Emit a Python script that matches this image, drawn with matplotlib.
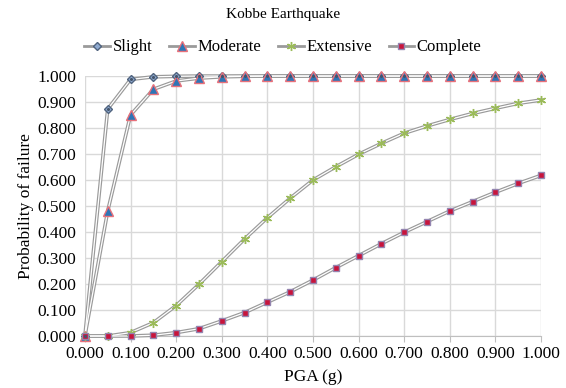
import matplotlib.pyplot as plt
import numpy as np
from matplotlib.lines import Line2D

plt.rcParams['font.family'] = ['Liberation Serif', 'DejaVu Serif']

# PGA (g) levels
pga = [0.00, 0.05, 0.10, 0.15, 0.20, 0.25, 0.30, 0.35, 0.40, 0.45, 0.50,
       0.55, 0.60, 0.65, 0.70, 0.75, 0.80, 0.85, 0.90, 0.95, 1.00]

slight = [0.000, 0.873, 0.987, 0.997, 0.999, 1.000, 1.000, 1.000, 1.000, 1.000, 1.000,
          1.000, 1.000, 1.000, 1.000, 1.000, 1.000, 1.000, 1.000, 1.000, 1.000]
moderate = [0.000, 0.481, 0.850, 0.949, 0.981, 0.992, 0.997, 0.999, 1.000, 1.000, 1.000,
            1.000, 1.000, 1.000, 1.000, 1.000, 1.000, 1.000, 1.000, 1.000, 1.000]
extensive = [0.000, 0.000, 0.013, 0.051, 0.117, 0.199, 0.286, 0.373, 0.455, 0.530, 0.600,
             0.651, 0.699, 0.741, 0.780, 0.808, 0.833, 0.856, 0.876, 0.895, 0.908]
complete = [0.000, 0.000, 0.000, 0.003, 0.013, 0.028, 0.058, 0.090, 0.130, 0.170, 0.215,
            0.263, 0.309, 0.355, 0.399, 0.440, 0.481, 0.517, 0.553, 0.587, 0.618]

fig = plt.figure(figsize=(5.66, 3.88), dpi=100)
ax = fig.add_axes([0.150, 0.134, 0.806, 0.670])

# (label, data, marker, size, face, edge)
series = [
    ("Slight", slight, "D", 4.0, "#8FAAD0", "#50637E"),
    ("Moderate", moderate, "^", 6.5, "#2E75B6", "#E8707A"),
    ("Extensive", extensive, (6, 2, 0), 6.5, "#9BBB59", "#9BBB59"),
    ("Complete", complete, "s", 4.5, "#C8143C", "#9485B0"),
]

for name, vals, mk, ms, fc, ec in series:
    # double line look: gray outline with a white core
    ax.plot(pga, vals, color="#9A9A9A", lw=2.6, clip_on=False, zorder=3)
    ax.plot(pga, vals, color="white", lw=0.9, clip_on=False, zorder=4)
    ax.plot(pga, vals, ls="none", marker=mk, ms=ms, mfc=fc, mec=ec,
            mew=1.0, clip_on=False, zorder=5)
    if mk == "D":
        ax.plot(pga, vals, ls="none", marker="o", ms=1.2, color="#44546A",
                clip_on=False, zorder=6)

ax.set_xlim(0, 1)
ax.set_ylim(0, 1)
ax.set_xticks(np.arange(0, 1.01, 0.1))
ax.set_yticks(np.arange(0, 1.01, 0.1))
ax.xaxis.set_major_formatter(plt.FormatStrFormatter("%.3f"))
ax.yaxis.set_major_formatter(plt.FormatStrFormatter("%.3f"))
ax.grid(True, color="#D9D9D9", lw=1.0, zorder=0)
ax.set_axisbelow(True)
for s in ["top", "right", "left"]:
    ax.spines[s].set_visible(False)
ax.spines["bottom"].set_color("#BFBFBF")
ax.tick_params(axis="x", length=4, color="#BFBFBF", labelsize=12.5, pad=3)
ax.tick_params(axis="y", length=0, labelsize=12.5, pad=6)

ax.set_xlabel("PGA (g)", fontsize=12.5, labelpad=5)
ax.set_ylabel("Probability of failure", fontsize=12.5, labelpad=3)
fig.text(0.5, 0.962, "Kobbe Earthquake", ha="center", va="center", fontsize=11)

leg_handles = []
for name, vals, mk, ms, fc, ec in series:
    leg_handles.append(Line2D([], [], color="#9A9A9A", lw=2.0, marker=mk, ms=ms,
                              mfc=fc, mec=ec, mew=1.0))
fig.legend(leg_handles, [s[0] for s in series], loc="center", ncol=4,
           bbox_to_anchor=(0.5, 0.878), frameon=False, fontsize=12,
           handlelength=1.55, handletextpad=0.15, columnspacing=1.0)

fig.savefig("out.png", dpi=100)
